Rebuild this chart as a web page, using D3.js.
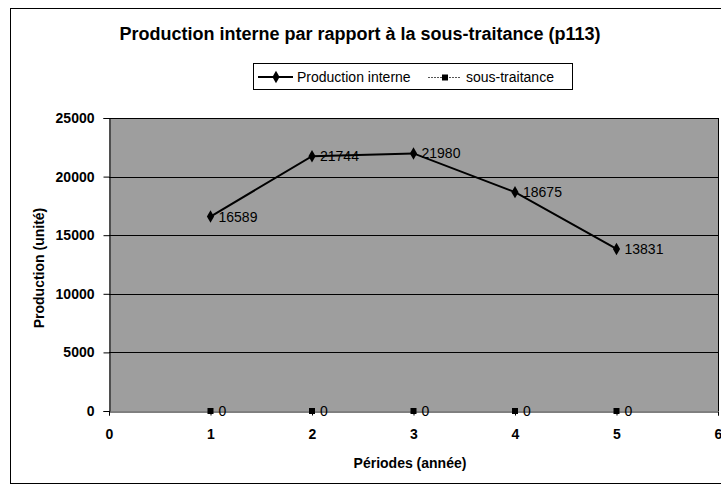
<!DOCTYPE html>
<html>
<head>
<meta charset="utf-8">
<script src="https://cdn.jsdelivr.net/npm/d3@7"></script>
<style>
  body { margin: 0; background: #fff; }
  text { font-family: Arial, "Liberation Sans", sans-serif; fill: #000; }
</style>
</head>
<body>
<div class="chart-container"></div>
<script>
// Chart data
const periods = [1, 2, 3, 4, 5];
const productionInterne = [16589, 21744, 21980, 18675, 13831];
const sousTraitance = [0, 0, 0, 0, 0];
const seriesNames = ['Production interne', 'sous-traitance'];
const xTicks = [0, 1, 2, 3, 4, 5, 6];
const yTicks = [0, 5000, 10000, 15000, 20000, 25000];

// Chart params
const width = 721;
const height = 489;
const plot = { left: 109, right: 718, top: 118, bottom: 411 };

// Draw the chart
function drawChart() {

    var svg = d3.select('.chart-container')
        .append('svg')
        .attr('width', width)
        .attr('height', height);

    // Outer chart border
    svg.append('rect')
        .attr('x', 10.5)
        .attr('y', 8.5)
        .attr('width', 730)
        .attr('height', 475)
        .attr('fill', '#fff')
        .attr('stroke', '#000')
        .attr('stroke-width', 1);

    var x = d3.scaleLinear().domain([0, 6]).range([plot.left, plot.right]);
    var y = d3.scaleLinear().domain([0, 25000]).range([plot.bottom, plot.top]);

    // Plot area background
    svg.append('rect')
        .attr('x', plot.left)
        .attr('y', plot.top)
        .attr('width', plot.right - plot.left)
        .attr('height', plot.bottom - plot.top)
        .attr('fill', '#9e9e9e');

    // Grid lines
    svg.append('g')
        .selectAll('line')
        .data(yTicks.filter(d => d > 0))
        .enter()
        .append('line')
        .attr('x1', plot.left)
        .attr('x2', plot.right)
        .attr('y1', d => Math.round(y(d)) + 0.5)
        .attr('y2', d => Math.round(y(d)) + 0.5)
        .attr('stroke', '#000')
        .attr('stroke-width', 1);

    // Right edge of plot area
    svg.append('line')
        .attr('x1', plot.right + 0.5).attr('x2', plot.right + 0.5)
        .attr('y1', plot.top).attr('y2', plot.bottom)
        .attr('stroke', '#000');

    // Axes
    var xAxis = svg.append('g')
        .attr('transform', `translate(0,${plot.bottom + 0.5})`)
        .call(d3.axisBottom(x).tickValues(xTicks).tickFormat(d3.format('d')).tickSize(4).tickPadding(14));

    var yAxis = svg.append('g')
        .attr('transform', `translate(${plot.left + 0.5},0)`)
        .call(d3.axisLeft(y).tickValues(yTicks).tickFormat(d3.format('d')).tickSize(6).tickPadding(9));

    [xAxis, yAxis].forEach(a => {
        a.select('.domain').attr('stroke', '#000').attr('stroke-width', 1);
        a.selectAll('.tick line').attr('stroke', '#000');
        a.selectAll('.tick text')
            .style('font-size', '14px')
            .style('font-weight', 'bold')
            .attr('fill', '#000');
    });

    // Production interne line
    var line = d3.line()
        .x((d, i) => x(periods[i]))
        .y(d => y(d));

    svg.append('path')
        .datum(productionInterne)
        .attr('d', line)
        .attr('fill', 'none')
        .attr('stroke', '#000')
        .attr('stroke-width', 2);

    svg.append('g')
        .selectAll('path')
        .data(productionInterne)
        .enter()
        .append('path')
        .attr('d', d3.symbol().type(d3.symbolDiamond).size(45))
        .attr('transform', (d, i) => `translate(${x(periods[i])},${y(d)})`)
        .attr('fill', '#000');

    svg.append('g')
        .selectAll('text')
        .data(productionInterne)
        .enter()
        .append('text')
        .attr('x', (d, i) => x(periods[i]) + 8)
        .attr('y', d => y(d))
        .attr('dy', '0.36em')
        .style('font-size', '14px')
        .text(d => d);

    // Sous-traitance points
    svg.append('g')
        .selectAll('rect')
        .data(sousTraitance)
        .enter()
        .append('rect')
        .attr('x', (d, i) => x(periods[i]) - 3)
        .attr('y', d => y(d) - 3)
        .attr('width', 6)
        .attr('height', 6)
        .attr('fill', '#000');

    svg.append('g')
        .selectAll('text')
        .data(sousTraitance)
        .enter()
        .append('text')
        .attr('x', (d, i) => x(periods[i]) + 8)
        .attr('y', d => y(d))
        .attr('dy', '0.36em')
        .style('font-size', '14px')
        .text(d => d);

    // Title
    svg.append('text')
        .attr('x', 360)
        .attr('y', 40)
        .attr('text-anchor', 'middle')
        .style('font-size', '18px')
        .style('font-weight', 'bold')
        .text('Production interne par rapport à la sous-traitance (p113)');

    // Axis titles
    svg.append('text')
        .attr('x', 410)
        .attr('y', 468)
        .attr('text-anchor', 'middle')
        .style('font-size', '14px')
        .style('font-weight', 'bold')
        .text('Périodes (année)');

    svg.append('text')
        .attr('transform', 'translate(44,268) rotate(-90)')
        .attr('text-anchor', 'middle')
        .style('font-size', '14px')
        .style('font-weight', 'bold')
        .text('Production (unité)');

    // Legend
    var legend = svg.append('g');

    legend.append('rect')
        .attr('x', 253.5)
        .attr('y', 63.5)
        .attr('width', 319)
        .attr('height', 26)
        .attr('fill', '#fff')
        .attr('stroke', '#000');

    legend.append('line')
        .attr('x1', 258).attr('x2', 293)
        .attr('y1', 77).attr('y2', 77)
        .attr('stroke', '#000').attr('stroke-width', 2);

    legend.append('path')
        .attr('d', d3.symbol().type(d3.symbolDiamond).size(45))
        .attr('transform', 'translate(276,77)');

    legend.append('text')
        .attr('x', 297).attr('y', 77).attr('dy', '0.36em')
        .style('font-size', '14px')
        .text(seriesNames[0]);

    legend.append('line')
        .attr('x1', 428).attr('x2', 461)
        .attr('y1', 77.5).attr('y2', 77.5)
        .attr('stroke', '#555').attr('stroke-width', 1)
        .attr('stroke-dasharray', '2,1');

    legend.append('rect')
        .attr('x', 442).attr('y', 74.5)
        .attr('width', 6).attr('height', 6)
        .attr('fill', '#000');

    legend.append('text')
        .attr('x', 466).attr('y', 77).attr('dy', '0.36em')
        .style('font-size', '14px')
        .text(seriesNames[1]);
}

window.onload = function () {
    drawChart();
};
</script>
</body>
</html>
